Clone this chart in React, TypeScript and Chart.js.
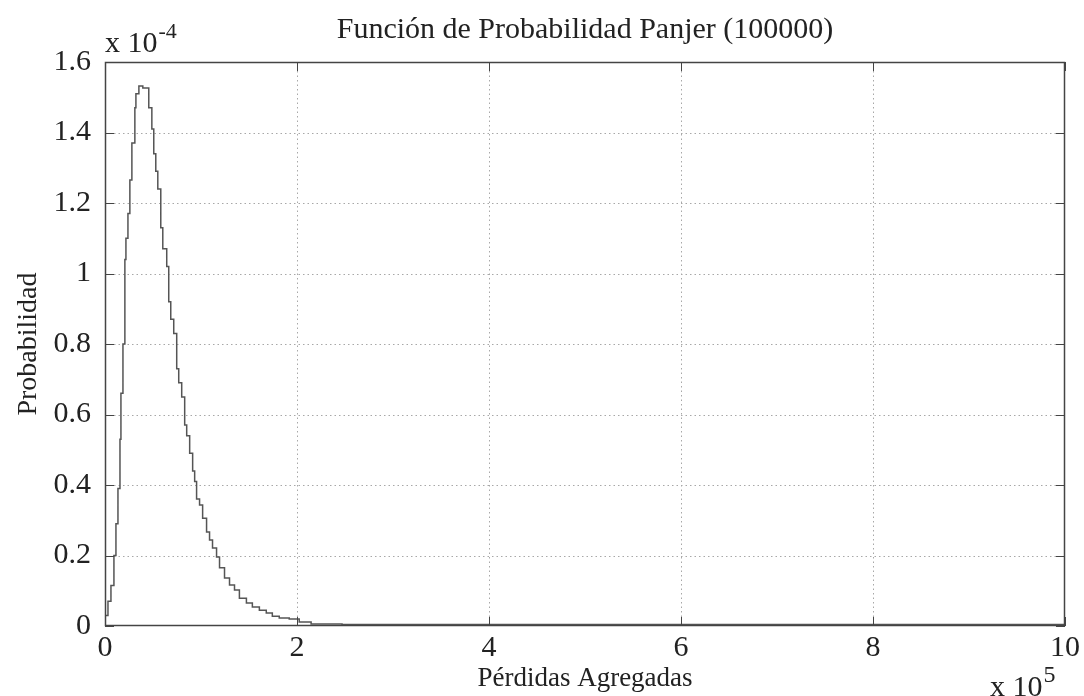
import React, { useEffect, useRef } from "react";
import { Chart, registerables } from "chart.js";

Chart.register(...registerables);

// Aggregate losses (x 10^5) and probabilities (x 10^-4), step starts
const lossX: number[] = [
  0, 0.031, 0.062, 0.093, 0.114, 0.135, 0.156, 0.166, 0.187, 0.207, 0.218, 0.239,
  0.259, 0.28, 0.311, 0.322, 0.353, 0.394, 0.456, 0.488, 0.508, 0.529, 0.55, 0.581,
  0.602, 0.643, 0.664, 0.685, 0.716, 0.747, 0.768, 0.799, 0.83, 0.851, 0.882, 0.913,
  0.934, 0.954, 0.985, 1.017, 1.058, 1.089, 1.12, 1.162, 1.193, 1.245, 1.297, 1.349,
  1.4, 1.473, 1.535, 1.608, 1.68, 1.743, 1.815, 1.919, 2.023, 2.147, 2.469, 10,
];
const probY: number[] = [
  0.005, 0.03, 0.07, 0.115, 0.2, 0.29, 0.39, 0.53, 0.66, 0.8, 1.04, 1.1,
  1.17, 1.265, 1.37, 1.47, 1.51, 1.532, 1.526, 1.47, 1.41, 1.34, 1.29, 1.24,
  1.13, 1.07, 1.02, 0.92, 0.87, 0.83, 0.73, 0.69, 0.65, 0.57, 0.54, 0.49,
  0.44, 0.41, 0.36, 0.343, 0.306, 0.267, 0.244, 0.221, 0.196, 0.165, 0.136, 0.116,
  0.102, 0.079, 0.065, 0.054, 0.045, 0.037, 0.028, 0.023, 0.02, 0.011, 0.006, 0.004,
];

const titleText = "Función de Probabilidad Panjer (100000)";
const xLabel = "Pérdidas Agregadas";
const yLabel = "Probabilidad";
const xMax = 10;
const yMax = 1.6;
const xStep = 2;
const yStep = 0.2;

const SERIF = "'Liberation Serif', 'DejaVu Serif', serif";

const framePlugin = {
  id: "frame",
  beforeDatasetsDraw(chart: any) {
    const { ctx, chartArea: a, scales } = chart;
    const xs = scales.x;
    const ys = scales.y;
    ctx.save();
    ctx.strokeStyle = "#a8a8a8";
    ctx.lineWidth = 1;
    ctx.setLineDash([1.5, 3]);
    xs.ticks.forEach((t: any) => {
      const px = Math.round(xs.getPixelForValue(t.value)) + 0.5;
      if (t.value <= 0 || t.value >= xMax) return;
      ctx.beginPath();
      ctx.moveTo(px, a.top);
      ctx.lineTo(px, a.bottom);
      ctx.stroke();
    });
    ys.ticks.forEach((t: any) => {
      const py = Math.round(ys.getPixelForValue(t.value)) + 0.5;
      if (t.value <= 0 || t.value >= yMax - 1e-9) return;
      ctx.beginPath();
      ctx.moveTo(a.left, py);
      ctx.lineTo(a.right, py);
      ctx.stroke();
    });
    ctx.restore();
  },
  afterDatasetsDraw(chart: any) {
    const { ctx, chartArea: a, scales } = chart;
    const xs = scales.x;
    const ys = scales.y;
    ctx.save();
    ctx.setLineDash([]);
    ctx.strokeStyle = "#444";
    ctx.lineWidth = 1.5;
    ctx.strokeRect(a.left + 0.5, a.top + 0.5, a.right - a.left - 1, a.bottom - a.top - 1);
    ctx.lineWidth = 1;
    const tl = 9;
    xs.ticks.forEach((t: any) => {
      const px = Math.round(xs.getPixelForValue(t.value)) + 0.5;
      ctx.beginPath();
      ctx.moveTo(px, a.bottom);
      ctx.lineTo(px, a.bottom - tl);
      ctx.moveTo(px, a.top);
      ctx.lineTo(px, a.top + tl);
      ctx.stroke();
    });
    ys.ticks.forEach((t: any) => {
      const py = Math.round(ys.getPixelForValue(t.value)) + 0.5;
      ctx.beginPath();
      ctx.moveTo(a.left, py);
      ctx.lineTo(a.left + tl, py);
      ctx.moveTo(a.right, py);
      ctx.lineTo(a.right - tl, py);
      ctx.stroke();
    });

    ctx.fillStyle = "#222";
    ctx.font = `30px ${SERIF}`;
    ctx.textAlign = "center";
    ctx.textBaseline = "alphabetic";
    ctx.fillText(titleText, (a.left + a.right) / 2, 38);
    ctx.font = `27px ${SERIF}`;
    ctx.fillText(xLabel, (a.left + a.right) / 2, 686);
    ctx.save();
    ctx.translate(36, (a.top + a.bottom) / 2);
    ctx.rotate(-Math.PI / 2);
    ctx.font = `28px ${SERIF}`;
    ctx.fillText(yLabel, 0, 0);
    ctx.restore();
    ctx.textAlign = "left";
    ctx.font = `30px ${SERIF}`;
    ctx.fillText("x 10", a.left, 52);
    const w1 = ctx.measureText("x 10").width;
    ctx.font = `22px ${SERIF}`;
    ctx.fillText("-4", a.left + w1 + 1, 38);
    ctx.font = `30px ${SERIF}`;
    ctx.fillText("x 10", 990, 696);
    const w2 = ctx.measureText("x 10").width;
    ctx.font = `24px ${SERIF}`;
    ctx.fillText("5", 990 + w2 + 1, 682);
    ctx.restore();
  },
};

export default function App() {
  const ref = useRef<HTMLCanvasElement>(null);
  useEffect(() => {
    document.body.style.margin = "0";
    const canvas = ref.current;
    if (!canvas) return;
    const points = lossX.map((x, i) => ({ x, y: probY[i] }));
    const chart = new Chart(canvas, {
      type: "line",
      data: {
        datasets: [
          {
            data: points,
            borderColor: "#555",
            borderWidth: 1.5,
            pointRadius: 0,
            stepped: "after",
            fill: false,
          },
        ],
      },
      options: {
        animation: false,
        responsive: false,
        maintainAspectRatio: false,
        layout: { padding: { top: 62, right: 15, left: 0, bottom: 0 } },
        plugins: { legend: { display: false }, tooltip: { enabled: false }, title: { display: false } },
        scales: {
          x: {
            type: "linear",
            min: 0,
            max: xMax,
            grid: { display: false, drawTicks: false },
            border: { display: false },
            ticks: {
              stepSize: xStep,
              color: "#222",
              font: { family: SERIF, size: 30 },
              padding: 4,
              maxRotation: 0,
              autoSkip: false,
            },
            afterFit(scale: any) {
              scale.height = 70;
            },
          },
          y: {
            type: "linear",
            min: 0,
            max: yMax,
            grid: { display: false, drawTicks: false },
            border: { display: false },
            ticks: {
              stepSize: yStep,
              color: "#222",
              font: { family: SERIF, size: 30 },
              padding: 14,
              autoSkip: false,
              callback: (v: any) => String(Number(Number(v).toFixed(1))),
            },
            afterFit(scale: any) {
              scale.width = 105;
            },
          },
        },
      },
      plugins: [framePlugin],
    });
    return () => chart.destroy();
  }, []);
  return (
    <div style={{ position: "fixed", left: 0, top: 0, width: 1084, height: 696, background: "#fff" }}>
      <canvas ref={ref} width={1084} height={696} style={{ width: 1084, height: 696 }} />
    </div>
  );
}
